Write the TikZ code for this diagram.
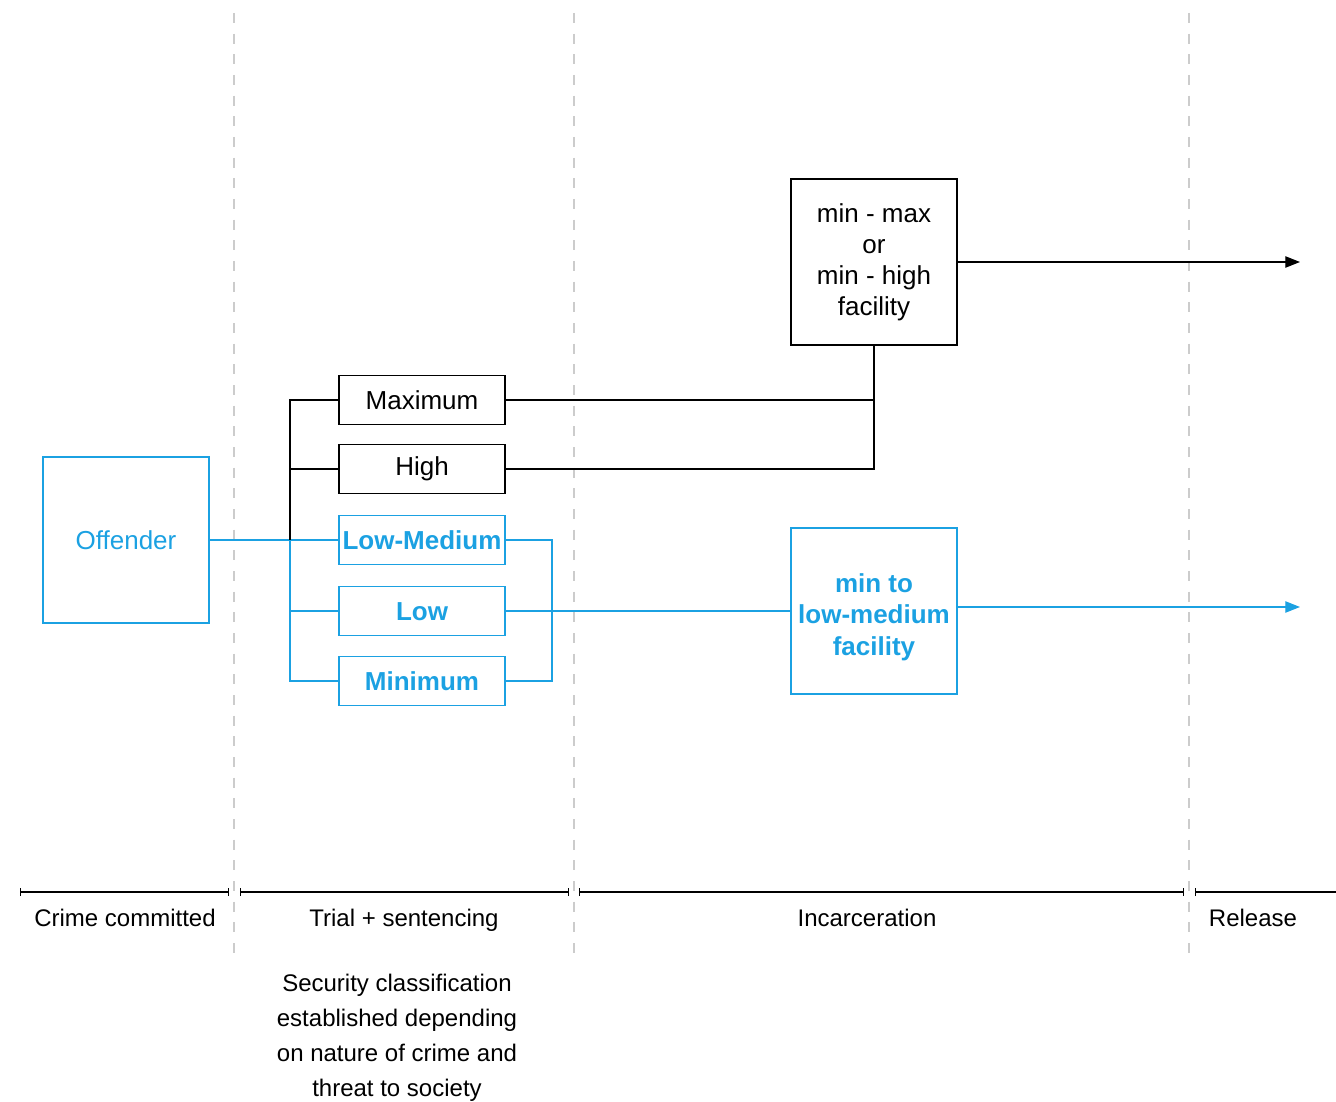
\documentclass[tikz,border=0pt]{standalone}
\usepackage{fontspec}
\setmainfont{Liberation Sans}
\usetikzlibrary{arrows.meta}
\definecolor{clsblue}{RGB}{27,161,226}
\definecolor{sepgray}{RGB}{204,204,204}
\tikzset{
  levelbox/.style={draw, line width=0.9pt, minimum width=124.5pt, minimum height=36.75pt,
    inner sep=1pt, font=\fontsize{19.5pt}{23.25pt}\selectfont},
  bluebox/.style={levelbox, draw=clsblue, text=clsblue, font=\fontsize{19.5pt}{23.25pt}\selectfont\bfseries},
  bigbox/.style={levelbox, minimum height=124.5pt, align=center},
  phase/.style={font=\fontsize{18pt}{26.25pt}\selectfont, align=center},
  span/.style={line width=1.1pt, {Bar[width=6pt]}-{Bar[width=6pt]}}
}

\begin{document}
\begin{tikzpicture}[x=0.75pt,y=-0.75pt]
    \useasboundingbox (0,0) rectangle (1336,1102);
    \foreach \x in {234,574,1189} {
      \draw[sepgray, line width=1.5pt, dash pattern=on 7.5pt off 8pt] (\x,13) to (\x,960);
    }
    % time line
    \draw[span] (20,892) to (229,892);
    \draw[span] (240,892) to (569,892);
    \draw[span] (579,892) to (1184,892);
    \draw[line width=1.1pt, {Bar[width=6pt]}-] (1195,892) to (1336,892);
    \node[phase, anchor=base] (crime) at (125,926) {Crime committed};
    \node[phase, anchor=base] (trial) at (404,926) {Trial + sentencing};
    \node[phase, anchor=base] (incar) at (867,926) {Incarceration};
    \node[phase, anchor=base] (rel) at (1253,926) {Release};
    \node[phase] (secnote) at (397,1038) {Security classification\\established depending\\on nature of crime and\\threat to society};
    % boxes
    \node[bigbox, draw=clsblue, text=clsblue] (off) at (126,540) {Offender};
    \node[levelbox] (max) at (422,400) {Maximum};
    \node[levelbox] (high) at (422,469) {High};
    \node[bluebox] (lowmed) at (422,540) {Low-Medium};
    \node[bluebox, text height=14pt] (low) at (422,611) {Low};
    \node[bluebox] (min) at (422,681) {Minimum};
    \node[bigbox] (top) at (874,262) {min - max\\or\\min - high\\facility};
    \node[bigbox, draw=clsblue] (fac) at (874,611) {};
    \node[bluebox, draw=none, align=center, font=\fontsize{19.5pt}{23.75pt}\selectfont\bfseries] (factext) at (874,617) {min to\\low-medium\\facility};
    \coordinate (bus) at (290,540);
    \coordinate (merge) at (552,611);
    \coordinate (outtop) at (1300,262);
    \coordinate (outlow) at (1300,607);
    % connectors
    \draw[clsblue, line width=0.9pt] (off.east) to (lowmed.west);
    \draw[line width=0.9pt] (max.west) -| (bus);
    \draw[line width=0.9pt] (high.west) to (high.west -| bus);
    \draw[clsblue, line width=0.9pt] (bus) |- (min.west);
    \draw[clsblue, line width=0.9pt] (low.west) to (low.west -| bus);
    \draw[line width=0.9pt] (max.east) -| (top.south);
    \draw[line width=0.9pt] (high.east) -| (top.south);
    \draw[line width=0.9pt, -{Triangle[length=11pt,width=8.5pt]}] (top.east) to (outtop);
    \draw[clsblue, line width=0.9pt] (lowmed.east) -| (merge) |- (min.east);
    \draw[clsblue, line width=0.9pt] (low.east) to (fac.west);
    \draw[clsblue, line width=0.9pt, -{Triangle[length=11pt,width=8.5pt]}] (fac.east |- outlow) to (outlow);
  \end{tikzpicture}
\end{document}
